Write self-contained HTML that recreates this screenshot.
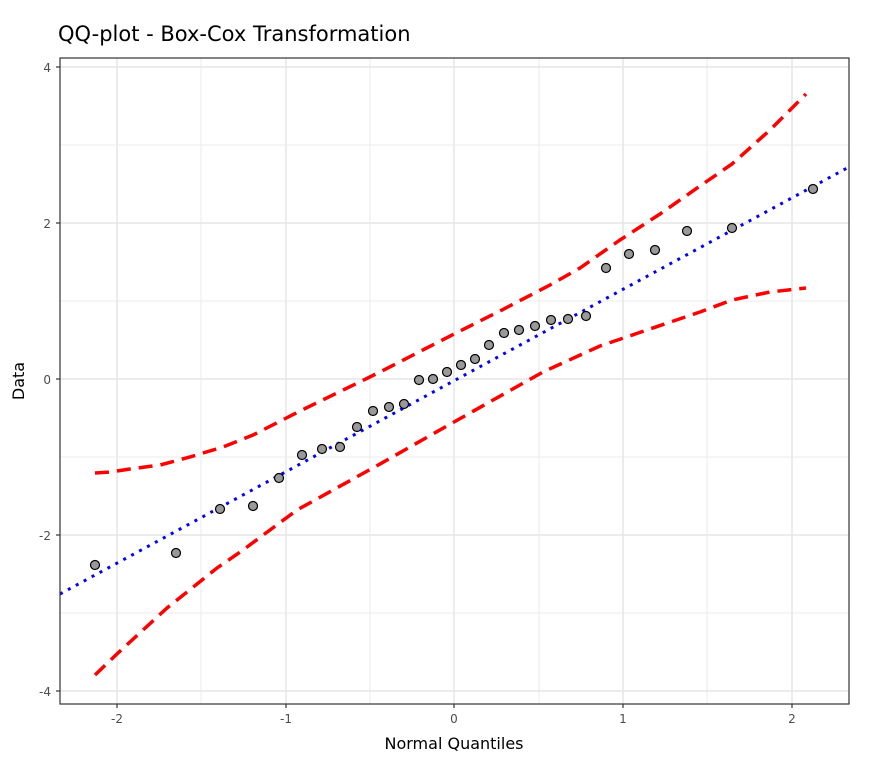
<!DOCTYPE html>
<html><head><meta charset="utf-8"><style>body{margin:0;background:#fff}svg{display:block}text{font-family:"DejaVu Sans","Liberation Sans",sans-serif}</style></head><body>
<svg width="875" height="760" viewBox="0 0 875 760">
<text x="58" y="41" font-size="21" fill="#000">QQ-plot - Box-Cox Transformation</text>
<g stroke="#ebebeb" stroke-width="1">
<line x1="60" x2="849" y1="613" y2="613"/><line x1="60" x2="849" y1="457" y2="457"/><line x1="60" x2="849" y1="301" y2="301"/><line x1="60" x2="849" y1="145" y2="145"/>
<line y1="58" y2="704" x1="201" x2="201"/><line y1="58" y2="704" x1="370" x2="370"/><line y1="58" y2="704" x1="539" x2="539"/><line y1="58" y2="704" x1="707" x2="707"/>
</g>
<g stroke="#e6e6e6" stroke-width="1.5">
<line x1="60" x2="849" y1="691" y2="691"/><line x1="60" x2="849" y1="535" y2="535"/><line x1="60" x2="849" y1="379" y2="379"/><line x1="60" x2="849" y1="223" y2="223"/><line x1="60" x2="849" y1="67" y2="67"/>
<line y1="58" y2="704" x1="117" x2="117"/><line y1="58" y2="704" x1="286" x2="286"/><line y1="58" y2="704" x1="454" x2="454"/><line y1="58" y2="704" x1="623" x2="623"/><line y1="58" y2="704" x1="792" x2="792"/>
</g>
<polyline fill="none" stroke="#f00" stroke-width="3.5" stroke-dasharray="14,8" points="95,473 110,472 130,469 160,465 190,457 203,453 223,447 253,435 300,411 380,372 454,334 500,311 550,285 580,268 620,240 660,214 700,186 732,164 770,130 806,94"/>
<polyline fill="none" stroke="#f00" stroke-width="3.5" stroke-dasharray="14,8" points="95,675 118,653 143,630 167,608 192,588 217,568 243,550 270,530 297,510 380,464 454,422 543,372 600,346 647,330 700,312 732,300 770,292 806,288"/>
<line x1="60" y1="594" x2="849" y2="167" stroke="#00f" stroke-width="3" stroke-dasharray="3,6"/>
<g fill="#999" stroke="#000" stroke-width="1.2">
<circle cx="95" cy="565" r="4.5"/><circle cx="176" cy="553" r="4.5"/><circle cx="220" cy="509" r="4.5"/><circle cx="253" cy="506" r="4.5"/><circle cx="279" cy="478" r="4.5"/><circle cx="302" cy="455" r="4.5"/><circle cx="322" cy="449" r="4.5"/><circle cx="340" cy="447" r="4.5"/><circle cx="357" cy="427" r="4.5"/><circle cx="373" cy="411" r="4.5"/><circle cx="389" cy="407" r="4.5"/><circle cx="404" cy="404" r="4.5"/><circle cx="419" cy="380" r="4.5"/><circle cx="433" cy="379" r="4.5"/><circle cx="447" cy="372" r="4.5"/><circle cx="461" cy="365" r="4.5"/><circle cx="475" cy="359" r="4.5"/><circle cx="489" cy="345" r="4.5"/><circle cx="504" cy="333" r="4.5"/><circle cx="519" cy="330" r="4.5"/><circle cx="535" cy="326" r="4.5"/><circle cx="551" cy="320" r="4.5"/><circle cx="568" cy="319" r="4.5"/><circle cx="586" cy="316" r="4.5"/><circle cx="606" cy="268" r="4.5"/><circle cx="629" cy="254" r="4.5"/><circle cx="655" cy="250" r="4.5"/><circle cx="687" cy="231" r="4.5"/><circle cx="732" cy="228" r="4.5"/><circle cx="813" cy="189" r="4.5"/>
</g>
<rect x="60" y="58" width="789" height="646" fill="none" stroke="#333" stroke-width="1.2"/>
<g stroke="#333" stroke-width="1.2">
<line x1="56" x2="60" y1="691" y2="691"/><line x1="56" x2="60" y1="535" y2="535"/><line x1="56" x2="60" y1="379" y2="379"/><line x1="56" x2="60" y1="223" y2="223"/><line x1="56" x2="60" y1="67" y2="67"/>
<line y1="704" y2="708" x1="117" x2="117"/><line y1="704" y2="708" x1="286" x2="286"/><line y1="704" y2="708" x1="454" x2="454"/><line y1="704" y2="708" x1="623" x2="623"/><line y1="704" y2="708" x1="792" x2="792"/>
</g>
<g font-size="12" fill="#4d4d4d" text-anchor="end">
<text x="51" y="696">-4</text><text x="51" y="540">-2</text><text x="51" y="384">0</text><text x="51" y="228">2</text><text x="51" y="72">4</text>
</g>
<g font-size="12" fill="#4d4d4d" text-anchor="middle">
<text x="117" y="723">-2</text><text x="286" y="723">-1</text><text x="454" y="723">0</text><text x="623" y="723">1</text><text x="792" y="723">2</text>
</g>
<text x="454" y="749" font-size="16" text-anchor="middle">Normal Quantiles</text>
<text transform="translate(24,381) rotate(-90)" font-size="16" text-anchor="middle">Data</text>
</svg>
</body></html>
